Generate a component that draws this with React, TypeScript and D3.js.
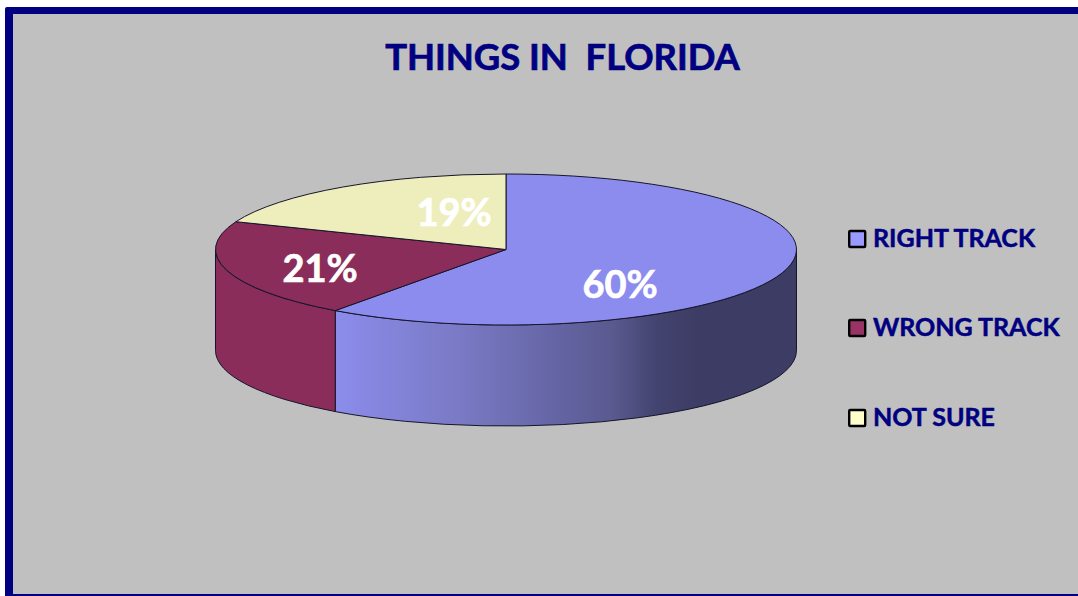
import React from 'react';
import * as d3 from 'd3';

const categories = ['RIGHT TRACK', 'WRONG TRACK', 'NOT SURE'];
const values = [60, 21, 19];
const labels = ['60%', '21%', '19%'];
const topColors = ['#8c8cee', '#8b2d5a', '#eeeebd'];
const legendColors = ['#9999ff', '#993366', '#ffffcc'];
const gradientStops: [number, string][] = [
  [0, '#8c8cec'], [0.29, '#7878c2'], [0.47, '#6565a6'], [0.6, '#5a5a90'], [0.7, '#43436f'], [0.79, '#3c3c64'], [1, '#3c3c64'],
];

const W = 1078, H = 596;
const cx = 506, cy = 249.5, rx = 290.5, ry = 75.5, depth = 101;
const labelPos: [number, number][] = [[620, 298], [320, 282], [454, 226]];
const legendY = [239, 328, 418];

const pt = (a: number, dy = 0): [number, number] => [cx + rx * Math.sin(a), cy - ry * Math.cos(a) + dy];

function sector(a0: number, a1: number) {
  const [x0, y0] = pt(a0), [x1, y1] = pt(a1);
  const large = a1 - a0 > Math.PI ? 1 : 0;
  return `M${cx},${cy}L${x0},${y0}A${rx},${ry} 0 ${large} 1 ${x1},${y1}Z`;
}
function wall(a0: number, a1: number) {
  const [x0, y0] = pt(a0), [x1, y1] = pt(a1);
  const [x2, y2] = pt(a1, depth), [x3, y3] = pt(a0, depth);
  const large = a1 - a0 > Math.PI ? 1 : 0;
  return `M${x0},${y0}A${rx},${ry} 0 ${large} 1 ${x1},${y1}L${x2},${y2}A${rx},${ry} 0 ${large} 0 ${x3},${y3}Z`;
}

export default function App() {
  const arcs = d3.pie<number>().sort(null)(values);
  const font = 'Lato, "Open Sans", sans-serif';
  const right = Math.PI / 2, left = (3 * Math.PI) / 2;
  return (
    <svg width={W} height={H} viewBox={`0 0 ${W} ${H}`} style={{ position: 'fixed', left: 0, top: 0, display: 'block' }}>
      <defs>
        <linearGradient id="blueWall" gradientUnits="userSpaceOnUse" x1={335} x2={796} y1={0} y2={0}>
          {gradientStops.map(([o, c]) => <stop key={o} offset={o} stopColor={c} />)}
        </linearGradient>
      </defs>
      <rect width={W} height={H} fill="#fff" />
      <rect x={5} y={7} width={W} height={H} fill="#000080" rx={2} />
      <rect x={13} y={14} width={W} height={580} fill="#c0c0c0" />
      <text x={562.5} y={70} textAnchor="middle" xmlSpace="preserve" fontFamily={font} fontWeight={700} fontSize={36.4} fill="#000080" stroke="#000080" strokeWidth={0.7}>THINGS IN  FLORIDA</text>

      {arcs.map((a, i) => {
        const s = Math.max(a.startAngle, right), e = Math.min(a.endAngle, left);
        if (e <= s) return null;
        return <path key={i} d={wall(s, e)} fill={i === 0 ? 'url(#blueWall)' : topColors[i]} stroke="#15152a" strokeWidth={1} />;
      })}
      {arcs.map((a, i) => (
        <path key={i} d={sector(a.startAngle, a.endAngle)} fill={topColors[i]} stroke="#15152a" strokeWidth={1} />
      ))}
      {arcs.map((a, i) => (
        <text key={i} x={labelPos[i][0]} y={labelPos[i][1]} textAnchor="middle" fontFamily={font} fontWeight={700} fontSize={38} fill="#fff" stroke="#fff" strokeWidth={0.7}>{labels[i]}</text>
      ))}

      {categories.map((c, i) => (
        <g key={c}>
          <rect x={849.2} y={legendY[i] - 8} width={16} height={16} fill={legendColors[i]} stroke="#000" strokeWidth={2.4} rx={1} />
          <text x={873} y={legendY[i] + 8} fontFamily={font} fontWeight={700} fontSize={25} fill="#000080" stroke="#000080" strokeWidth={0.5}>{c}</text>
        </g>
      ))}
    </svg>
  );
}
